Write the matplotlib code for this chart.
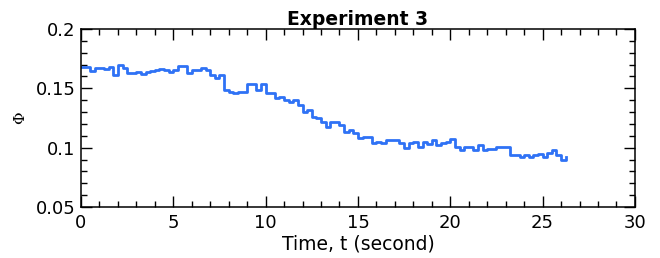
import matplotlib
matplotlib.use("Agg")
import matplotlib.pyplot as plt
from matplotlib.ticker import MultipleLocator, FixedLocator

plt.rcParams['font.family'] = ['DejaVu Sans']

t_start = 0.0
t_step = 0.25
phi = [
    0.168, 0.168, 0.165, 0.167, 0.167, 0.166, 0.168, 0.161,
    0.170, 0.167, 0.163, 0.163, 0.1635, 0.162, 0.164, 0.165,
    0.1655, 0.166, 0.1655, 0.164, 0.1655, 0.169, 0.169, 0.1627,
    0.1655, 0.1655, 0.1674, 0.1655, 0.1612, 0.1584, 0.1612, 0.1486,
    0.1472, 0.1458, 0.1472, 0.1472, 0.1537, 0.1537, 0.1486, 0.1537,
    0.1458, 0.1458, 0.1416, 0.143, 0.1402, 0.1388, 0.1402, 0.136,
    0.1303, 0.1317, 0.1261, 0.1247, 0.1219, 0.1177, 0.1219, 0.1219,
    0.1191, 0.1135, 0.1149, 0.1121, 0.1079, 0.1093, 0.1093, 0.1037,
    0.105, 0.1037, 0.1065, 0.1065, 0.1065, 0.1037, 0.0995, 0.1037,
    0.105, 0.1008, 0.1045, 0.1029, 0.1065, 0.1023, 0.1037, 0.105,
    0.1073, 0.1008, 0.098, 0.1008, 0.1008, 0.098, 0.1023, 0.098,
    0.0986, 0.0986, 0.1008, 0.1008, 0.1008, 0.0938, 0.0938, 0.0924,
    0.0938, 0.0924, 0.0938, 0.0947, 0.0924, 0.0952, 0.098, 0.0938,
    0.0896, 0.0924,
]
t = [t_start + i * t_step for i in range(len(phi))]

x_ticks = [0, 5, 10, 15, 20, 25, 30]
y_ticks = [0.05, 0.1, 0.15, 0.2]
y_tick_labels = ["0.05", "0.1", "0.15", "0.2"]

fig = plt.figure(figsize=(6.6, 2.58), dpi=100)
ax = fig.add_axes([0.1227, 0.1977, 0.8393, 0.6899])

ax.plot(t, phi, drawstyle="steps-post", color="#2f72f5", linewidth=2)

ax.set_xlim(0, 30)
ax.set_ylim(0.05, 0.2)
ax.xaxis.set_major_locator(FixedLocator(x_ticks))
ax.xaxis.set_minor_locator(MultipleLocator(1))
ax.yaxis.set_major_locator(FixedLocator(y_ticks))
ax.yaxis.set_minor_locator(MultipleLocator(0.01))
ax.set_yticklabels(y_tick_labels)

ax.tick_params(which="both", direction="in", top=True, right=True,
               labelsize=13, width=1)
ax.tick_params(which="major", length=8)
ax.tick_params(axis="x", which="major", pad=5)
ax.tick_params(axis="y", which="major", pad=4)
ax.tick_params(which="minor", length=4)
for s in ax.spines.values():
    s.set_linewidth(1.1)

ax.set_title("Experiment 3", fontsize=13.5, fontweight="bold", pad=3)
ax.set_xlabel("Time, t (second)", fontsize=13.5, labelpad=2)
ax.set_ylabel("\u03a6", fontsize=11, family="DejaVu Serif", labelpad=6)

fig.savefig("out.png", dpi=100)
